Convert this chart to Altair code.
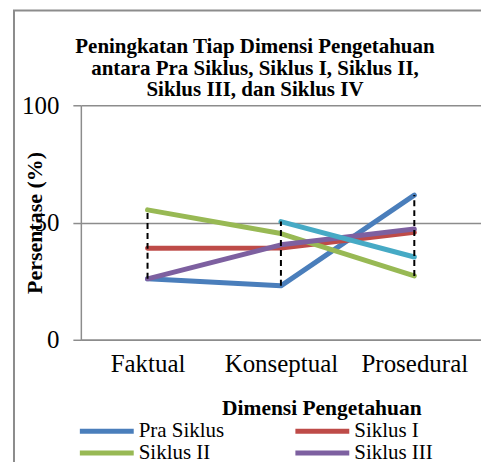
import altair as alt
import pandas as pd

categories = ["Faktual", "Konseptual", "Prosedural"]
series_names = ["Pra Siklus", "Siklus I", "Siklus II", "Siklus III", "Siklus IV"]
pra_siklus = [26.0, 23.0, 61.7]
siklus_1 = [39.0, 39.1, 45.8]
siklus_2 = [55.4, 45.3, 27.2]
siklus_3 = [26.0, 40.5, 47.2]
siklus_4 = [None, 50.4, 35.3]
colors = ["#4A7EBB", "#BE4B48", "#98B954", "#7D60A0", "#46AAC5"]

rows = []
for name, vals in zip(series_names, [pra_siklus, siklus_1, siklus_2, siklus_3, siklus_4]):
    for c, v in zip(categories, vals):
        if v is not None:
            rows.append({"Dimensi": c, "Seri": name, "Nilai": v})
df = pd.DataFrame(rows)

SERIF = "Liberation Serif"
GRAY = "#8C8C8C"

x_scale = alt.Scale(type="point", domain=categories, padding=0.5)

x_enc = alt.X(
    "Dimensi:N",
    sort=categories,
    scale=x_scale,
    axis=alt.Axis(
        title="Dimensi Pengetahuan",
        titleFont=SERIF, titleFontSize=21.5, titleFontWeight="bold", titleColor="black",
        titleX=241, titleY=69, titleBaseline="middle", titleAlign="center",
        labelFont=SERIF, labelFontSize=25, labelColor="black", labelPadding=12,
        labelAngle=0, ticks=False, domainColor=GRAY, domainWidth=1.5,
    ),
)
y_enc = alt.Y(
    "Nilai:Q",
    scale=alt.Scale(domain=[0, 100], nice=False),
    axis=alt.Axis(
        values=[0, 50, 100],
        title="Persentase (%)",
        titleFont=SERIF, titleFontSize=22, titleFontWeight="bold", titleColor="black",
        titleX=-46, titleY=117.5, titleAlign="center", titleBaseline="middle",
        labelFont=SERIF, labelFontSize=25, labelColor="black", labelPadding=14,
        tickSize=8, tickColor=GRAY, tickWidth=1.5,
        grid=True, gridColor=GRAY, gridWidth=1.5,
        domainColor=GRAY, domainWidth=1.5,
    ),
)

frame = alt.Chart(pd.DataFrame({"a": [0]})).mark_rect(
    fill=None, stroke="#8C8C8C", strokeWidth=2
).encode(
    x=alt.value(-67), x2=alt.value(600), y=alt.value(-95), y2=alt.value(600)
)

lines = alt.Chart(df).mark_line(strokeWidth=5, strokeCap="round", strokeJoin="round").encode(
    x=x_enc,
    y=y_enc,
    color=alt.Color(
        "Seri:N",
        scale=alt.Scale(domain=series_names, range=colors),
        legend=alt.Legend(
            title=None, orient="none", legendX=14.5, legendY=315, padding=0,
            direction="horizontal", columns=2, columnPadding=60, rowPadding=0,
            symbolType="M-3,0L3,0", symbolSize=324, symbolStrokeWidth=5,
            labelFont=SERIF, labelFontSize=21, labelColor="black", labelOffset=20.5,
            gridAlign="all",
        ),
    ),
    detail="Seri:N",
)

hilo = alt.Chart(df).transform_aggregate(
    lo="min(Nilai)", hi="max(Nilai)", groupby=["Dimensi"]
).mark_rule(color="black", strokeWidth=2, strokeDash=[6, 4]).encode(
    x=alt.X("Dimensi:N", sort=categories, scale=x_scale),
    y="lo:Q",
    y2="hi:Q",
)

chart = alt.layer(frame, lines, hilo).properties(
    width=401,
    height=235,
    title=alt.TitleParams(
        text=["Peningkatan Tiap Dimensi Pengetahuan", "antara Pra Siklus, Siklus I, Siklus II,", "Siklus III, dan Siklus IV"],
        font=SERIF, fontSize=21, fontWeight="bold", color="black",
        anchor="middle", dx=-26, dy=99, offset=8, lineHeight=21.5,
    ),
    autosize=alt.AutoSizeParams(type="none"),
    padding={"left": 73, "top": 97, "right": 0, "bottom": 125},
).configure_view(stroke=None)

chart.save("out.html", embed_options={"renderer": "svg", "actions": False})
